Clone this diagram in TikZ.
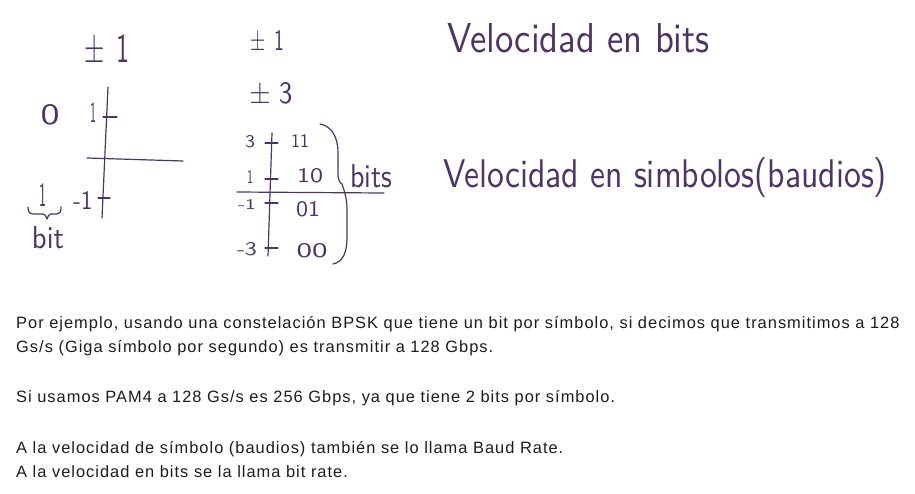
\documentclass[tikz,border=0pt]{standalone}
\usepackage{fontspec}
\setmainfont{Liberation Sans}
\newfontfamily\parafont[LetterSpace=6.2]{Liberation Sans}
\usepackage{graphicx}
\definecolor{ink}{RGB}{78,52,100}
\definecolor{bodytext}{RGB}{28,28,28}
\newcommand{\hw}[3]{\resizebox{#1pt}{#2pt}{#3}}
\begin{document}
\begin{tikzpicture}[x=1pt,y=-1pt,
  pen/.style={draw=ink,line width=1.2pt,line cap=round,line join=round},
  hand/.style={text=ink,font=\sffamily,inner sep=0pt,outer sep=0pt},
  para/.style={anchor=base west,inner sep=0pt,text=bodytext,font=\parafont\fontsize{16.4}{20}\selectfont}]
\useasboundingbox[fill=white] (0,0) rectangle (915,493);

% ---------- left sketch (BPSK) ----------
\node[hand] (pm1a) at (107,48) {\hw{45}{28}{±\hspace{0.45em}1}};
\node[hand] (zero) at (50,115) {\hw{19}{20}{0}};
\node[hand] (lone) at (93,112) {\hw{6}{20}{1}};
\node[hand] (lmone) at (83,200) {\hw{19}{18}{-1}};
\node[hand] (bitone) at (43,195) {\hw{7}{23}{1}};
\node[hand] (bitlbl) at (48,238) {\hw{32}{22}{bit}};
\coordinate (lvt) at (108,87);
\coordinate (lvb) at (102,218);
\coordinate (lhl) at (87,158);
\coordinate (lhr) at (183,161);
\coordinate (lt1a) at (103,117);
\coordinate (lt1b) at (117,117);
\coordinate (lt2a) at (98,198);
\coordinate (lt2b) at (110,198);
\draw[pen] (lvt) -- (lvb);
\draw[pen] (lhl) -- (lhr);
\draw[pen] (lt1a) -- (lt1b);
\draw[pen] (lt2a) -- (lt2b);
\coordinate (ubl) at (28,207);
\coordinate (ubr) at (61,207);
\draw[pen] (ubl) .. controls (28,213) and (30,214) .. (34,214) -- (43,214)
  .. controls (45,214) and (46,216) .. (47,219)
  .. controls (48,216) and (49,214) .. (51,214) -- (57,214)
  .. controls (60,214) and (61,212) .. (ubr);

% ---------- middle sketch (PAM4) ----------
\node[hand] (pm1b) at (267,40) {\hw{34}{20}{±\hspace{0.45em}1}};
\node[hand] (pm3) at (271,93) {\hw{43}{21}{±\hspace{0.3em}3}};
\node[hand] (lv3) at (250,142) {\hw{10}{12}{3}};
\node[hand] (lv1) at (250,177) {\hw{6}{13}{1}};
\node[hand] (lvm1) at (247,204) {\hw{18}{10}{-1}};
\node[hand] (lvm3) at (247,249) {\hw{20}{13}{-3}};
\node[hand] (c11) at (300,141) {\hw{18}{13}{11}};
\node[hand] (c10) at (310,176) {\hw{26}{14}{10}};
\node[hand] (c01) at (308,209) {\hw{24}{15}{01}};
\node[hand] (c00) at (312,251) {\hw{31}{14}{00}};
\node[hand] (bits) at (371,176) {\hw{42}{23}{bits}};
\coordinate (mvt) at (272,133);
\coordinate (mvb) at (268,256);
\coordinate (mhl) at (237,192);
\coordinate (mhr) at (384,193);
\draw[pen] (mvt) -- (mvb);
\draw[pen] (mhl) -- (mhr);
\foreach \yy/\nm in {143/a,179/b,203/c,248/d}{
  \coordinate (mt\nm l) at (265,\yy);
  \coordinate (mt\nm r) at (278,\yy);
  \draw[pen] (mt\nm l) -- (mt\nm r);
}
\coordinate (brt) at (320,124);
\coordinate (brc) at (342,184);
\coordinate (brb) at (333,264);
\draw[pen] (brt) .. controls (332,126) and (338,138) .. (338,152)
  -- (338,174) .. controls (338,180) and (340,183) .. (brc)
  .. controls (344,190) and (347,198) .. (347,210)
  -- (347,238) .. controls (347,252) and (343,262) .. (brb);

% ---------- handwritten labels ----------
\node[hand,anchor=base west] (vbits) at (447,52) {\hw{263}{29}{Velocidad en bits}};
\node[hand,anchor=base west] (vsym) at (443,187) {\hw{444}{30}{Velocidad en simbolos(baudios)}};

% ---------- paragraph ----------
\node[para] (p1) at (16,328) {Por ejemplo, usando una constelación BPSK que tiene un bit por símbolo, si decimos que transmitimos a 128};
\node[para] (p2) at (16,352) {Gs/s (Giga símbolo por segundo) es transmitir a 128 Gbps.};
\node[para] (p3) at (16,402) {Si usamos PAM4 a 128 Gs/s es 256 Gbps, ya que tiene 2 bits por símbolo.};
\node[para] (p4) at (16,453) {A la velocidad de símbolo (baudios) también se lo llama Baud Rate.};
\node[para] (p5) at (16,477) {A la velocidad en bits se la llama bit rate.};
\end{tikzpicture}
\end{document}
